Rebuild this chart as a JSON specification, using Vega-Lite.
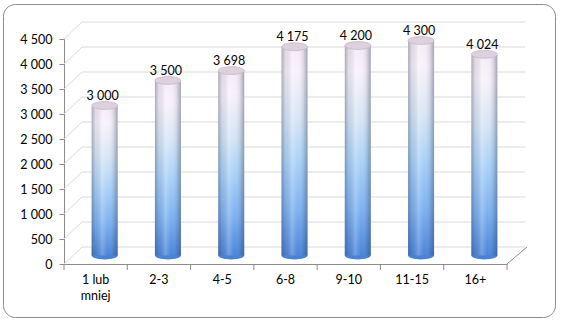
{
  "$schema": "https://vega.github.io/schema/vega-lite/v6.json",
  "width": 552,
  "height": 313,
  "padding": {"left": 3, "top": 4, "right": 6, "bottom": 6},
  "autosize": {"type": "none"},
  "background": "white",
  "config": {
    "view": {"stroke": "#8c8c8c", "strokeWidth": 1, "cornerRadius": 12, "fill": "white"},
    "font": "Lato"
  },
  "datasets": {
    "main": [
      {"cat": "1 lub mniej", "v": 3000},
      {"cat": "2-3", "v": 3500},
      {"cat": "4-5", "v": 3698},
      {"cat": "6-8", "v": 4175},
      {"cat": "9-10", "v": 4200},
      {"cat": "11-15", "v": 4300},
      {"cat": "16+", "v": 4024}
    ],
    "grid": [
      {"v": 0}, {"v": 500}, {"v": 1000}, {"v": 1500}, {"v": 2000},
      {"v": 2500}, {"v": 3000}, {"v": 3500}, {"v": 4000}, {"v": 4500}
    ]
  },
  "resolve": {"axis": {"x": "independent", "y": "independent"}},
  "layer": [
    {
      "data": {"name": "grid"},
      "mark": {"type": "rule", "color": "#d9d9d9", "strokeWidth": 1, "xOffset": 18, "x2Offset": 18, "yOffset": -17},
      "encoding": {
        "x": {"datum": "1 lub mniej", "type": "nominal", "bandPosition": 0, "axis": null},
        "x2": {"datum": "16+", "bandPosition": 1},
        "y": {"field": "v", "type": "quantitative", "axis": null}
      }
    },
    {
      "data": {"name": "grid"},
      "mark": {"type": "rule", "color": "#d9d9d9", "strokeWidth": 1, "x2Offset": 18, "y2Offset": -17},
      "encoding": {
        "x": {"datum": "1 lub mniej", "type": "nominal", "bandPosition": 0, "axis": null},
        "x2": {"datum": "1 lub mniej", "bandPosition": 0},
        "y": {"field": "v", "type": "quantitative", "axis": null},
        "y2": {"field": "v"}
      }
    },
    {
      "data": {"name": "grid"},
      "transform": [{"filter": "datum.v == 0"}],
      "mark": {"type": "rule", "color": "#8c8c8c", "strokeWidth": 1, "x2Offset": 20, "y2Offset": -17},
      "encoding": {
        "x": {"datum": "16+", "type": "nominal", "bandPosition": 1, "axis": null},
        "x2": {"datum": "16+", "bandPosition": 1},
        "y": {"field": "v", "type": "quantitative", "axis": null},
        "y2": {"field": "v"}
      }
    },
    {
      "data": {"name": "main"},
      "mark": {"type": "rule", "color": "#8c8c8c", "strokeWidth": 1, "y2Offset": 6},
      "encoding": {
        "x": {"field": "cat", "type": "nominal", "bandPosition": 0, "axis": null},
        "y": {"datum": 0, "type": "quantitative", "axis": null},
        "y2": {"datum": 0}
      }
    },
    {
      "data": {"name": "grid"},
      "transform": [{"filter": "datum.v == 0"}],
      "mark": {"type": "rule", "color": "#8c8c8c", "strokeWidth": 1, "y2Offset": 6},
      "encoding": {
        "x": {"datum": "16+", "type": "nominal", "bandPosition": 1, "axis": null},
        "y": {"field": "v", "type": "quantitative", "axis": null},
        "y2": {"field": "v"}
      }
    },
    {
      "data": {"name": "main"},
      "mark": {"type": "point", "filled": true, "opacity": 1, "shape": "M -1 0 A 1 0.3 0 1 1 1 0 A 1 0.3 0 1 1 -1 0 Z", "size": 676, "color": "#4a82d6", "xOffset": 9, "yOffset": -8.5},
      "encoding": {
        "x": {"field": "cat", "type": "nominal", "axis": null},
        "y": {"datum": 0, "type": "quantitative", "axis": null}
      }
    },
    {
      "data": {"name": "main"},
      "mark": {
        "type": "bar", "width": 26, "xOffset": 9, "yOffset": -8.5,
        "color": {
          "gradient": "linear", "x1": 0, "y1": 0, "x2": 0, "y2": 1,
          "stops": [
            {"offset": 0, "color": "#f5eaf5"},
            {"offset": 0.12, "color": "#f8f1f9"},
            {"offset": 0.35, "color": "#d6e5f5"},
            {"offset": 0.55, "color": "#abd2f8"},
            {"offset": 0.78, "color": "#7eb2f0"},
            {"offset": 1, "color": "#4a84d8"}
          ]
        }
      },
      "encoding": {
        "x": {
          "field": "cat", "type": "nominal", "sort": null,
          "scale": {"domain": ["1 lub mniej", "2-3", "4-5", "6-8", "9-10", "11-15", "16+"], "range": [61, 504], "paddingInner": 0, "paddingOuter": 0},
          "axis": {
            "orient": "bottom", "offset": -53, "title": null, "ticks": false, "grid": false,
            "domainColor": "#8c8c8c", "labelAngle": 0, "labelPadding": 9, "labelAlign": "center",
            "labelFont": "Lato", "labelFontSize": 12.5, "labelColor": "#000000",
            "labelBaseline": "top", "labelLineHeight": 16,
            "labelExpr": "datum.value == '1 lub mniej' ? ['1 lub', 'mniej'] : datum.value"
          }
        },
        "y": {
          "field": "v", "type": "quantitative",
          "scale": {"domain": [0, 4500], "range": [260, 35], "nice": false, "zero": true},
          "axis": {
            "orient": "left", "offset": -61, "title": null, "grid": false,
            "values": [0, 500, 1000, 1500, 2000, 2500, 3000, 3500, 4000, 4500],
            "labelExpr": "replace(format(datum.value, ','), ',', ' ')",
            "domainColor": "#8c8c8c", "tickColor": "#8c8c8c", "tickSize": 5,
            "labelPadding": 7, "labelFont": "Lato", "labelFontSize": 12.5, "labelColor": "#000000"
          }
        }
      }
    },
    {
      "data": {"name": "main"},
      "mark": {
        "type": "bar", "width": 26, "xOffset": 9, "yOffset": -8.5,
        "color": {
          "gradient": "linear", "x1": 0, "y1": 0, "x2": 1, "y2": 0,
          "stops": [
            {"offset": 0, "color": "rgba(50,60,90,0.38)"},
            {"offset": 0.15, "color": "rgba(50,60,90,0.10)"},
            {"offset": 0.4, "color": "rgba(255,255,255,0.22)"},
            {"offset": 0.62, "color": "rgba(255,255,255,0)"},
            {"offset": 0.85, "color": "rgba(50,60,90,0.14)"},
            {"offset": 1, "color": "rgba(50,60,90,0.42)"}
          ]
        }
      },
      "encoding": {
        "x": {"field": "cat", "type": "nominal", "axis": null},
        "y": {"field": "v", "type": "quantitative", "axis": null}
      }
    },
    {
      "data": {"name": "main"},
      "mark": {"type": "point", "filled": true, "opacity": 1, "shape": "M -1 0 A 1 0.3 0 1 1 1 0 A 1 0.3 0 1 1 -1 0 Z", "size": 676, "color": "#ddd1dd", "stroke": "#c4b8c6", "strokeWidth": 0.8, "xOffset": 9, "yOffset": -8.5},
      "encoding": {
        "x": {"field": "cat", "type": "nominal", "axis": null},
        "y": {"field": "v", "type": "quantitative", "axis": null}
      }
    },
    {
      "data": {"name": "main"},
      "mark": {"type": "text", "font": "Lato", "fontSize": 12.5, "color": "#000000", "align": "center", "baseline": "middle", "xOffset": 7, "yOffset": -18,
        "text": {"expr": "replace(format(datum.v, ','), ',', ' ')"}},
      "encoding": {
        "x": {"field": "cat", "type": "nominal", "axis": null},
        "y": {"field": "v", "type": "quantitative", "axis": null}
      }
    }
  ]
}
